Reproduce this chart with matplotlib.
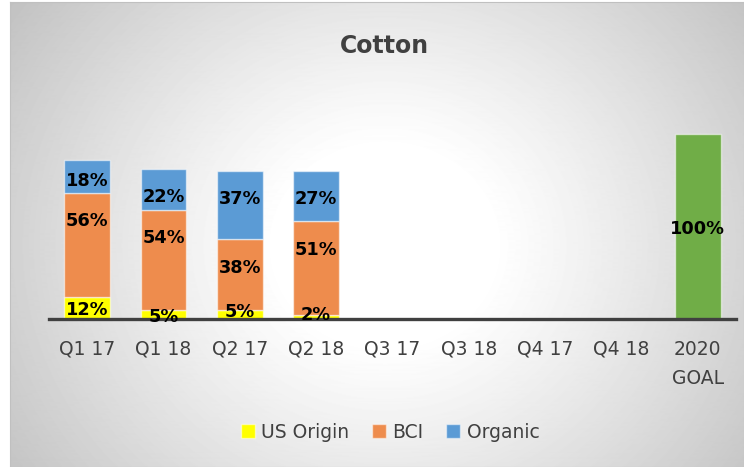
import numpy as np
import matplotlib
matplotlib.use("Agg")
import matplotlib.pyplot as plt
from matplotlib.patches import Patch

# data (percent)
categories = ["Q1 17", "Q1 18", "Q2 17", "Q2 18", "Q3 17", "Q3 18",
              "Q4 17", "Q4 18", "2020\nGOAL"]
quarters_with_data = ["Q1 17", "Q1 18", "Q2 17", "Q2 18"]
us_origin = [12, 5, 5, 2]
bci = [56, 54, 38, 51]
organic = [18, 22, 37, 27]
goal_label = "2020\nGOAL"
goal = [100]

C_US = "#FFFF00"
C_BCI = "#EE8C4D"
C_ORG = "#5B9BD5"
C_GOAL = "#70AD47"
TXT = "#404040"

# label nudges (pixels, + = down) to mimic the hand-placed labels
NUDGE_US = [2, 3, -2, -2.5]
NUDGE_BCI = [-24.5, -21.5, -7, -18.5]
NUDGE_ORG = [4, 7, -6.5, 3.5]
NUDGE_GOAL = [2]

W, H = 744, 467
fig = plt.figure(figsize=(W / 100, H / 100), dpi=100)

# radial grey-to-white background
bg = fig.add_axes([10 / W, 0, 1 - 10 / W, 1 - 1.5 / H])
yy, xx = np.mgrid[0:H, 10:W]
d = np.sqrt(((xx - 385) / 430.0) ** 2 + ((yy - 245) / 390.0) ** 2)
shade = 1 - 0.25 * np.clip((d - 0.25) / 0.85, 0, 1) ** 1.1
bg.imshow(shade, cmap="gray", vmin=0, vmax=1, aspect="auto",
          extent=[0, 1, 0, 1], origin="upper")
bg.set_xticks([]); bg.set_yticks([])
for s in bg.spines.values():
    s.set_color("#c0c0c0"); s.set_linewidth(0.8)

ax = fig.add_axes([49 / W, 148 / H, (736 - 49) / W, (370 - 148) / H])
ax.patch.set_alpha(0)
x_data = np.array([categories.index(q) for q in quarters_with_data])
x_goal = np.array([categories.index(goal_label)])
us = np.array(us_origin); b = np.array(bci); o = np.array(organic)

edge = dict(edgecolor=(1, 1, 1, 0.55), linewidth=1.0, width=0.6)
c1 = ax.bar(x_data, us, color=C_US, **edge)
c2 = ax.bar(x_data, b, bottom=us, color=C_BCI, **edge)
c3 = ax.bar(x_data, o, bottom=us + b, color=C_ORG, **edge)
c4 = ax.bar(x_goal, goal, color=C_GOAL, **edge)

for cont, nudges in ((c1, NUDGE_US), (c2, NUDGE_BCI), (c3, NUDGE_ORG), (c4, NUDGE_GOAL)):
    for rect, val, dy in zip(cont.patches, cont.datavalues, nudges):
        cx = rect.get_x() + rect.get_width() / 2
        cy = rect.get_y() + rect.get_height() / 2
        ax.annotate(f"{val:g}%", (cx, cy), xytext=(0, -dy * 0.72),
                    textcoords="offset points", ha="center", va="center",
                    fontsize=12.8, fontweight="bold", color="black")

ax.set_xlim(-0.5, len(categories) - 0.5)
ax.set_ylim(0, 120)
ax.set_xticks(range(len(categories)))
ax.set_xticklabels(categories, fontsize=13.5, color=TXT, linespacing=1.7)
ax.tick_params(axis="x", length=0, pad=15)
ax.set_yticks([])
for s in ("top", "right", "left"):
    ax.spines[s].set_visible(False)
ax.spines["bottom"].set_color(TXT)
ax.spines["bottom"].set_linewidth(2.4)

fig.text(384 / W, 1 - 46 / H, "Cotton", ha="center", va="center",
         fontsize=17, fontweight="bold", color=TXT)

handles = [Patch(facecolor=C_US, edgecolor=(1, 1, 1, 0.5)),
           Patch(facecolor=C_BCI, edgecolor=(1, 1, 1, 0.5)),
           Patch(facecolor=C_ORG, edgecolor=(1, 1, 1, 0.5))]
fig.legend(handles, ["US Origin", "BCI", "Organic"], loc="center",
           bbox_to_anchor=(390 / W, 35 / H), ncol=3, frameon=False,
           fontsize=13.5, labelcolor=TXT, handlelength=0.75, handleheight=0.75,
           handletextpad=0.35, columnspacing=1.2)

fig.savefig("out.png", dpi=100)
